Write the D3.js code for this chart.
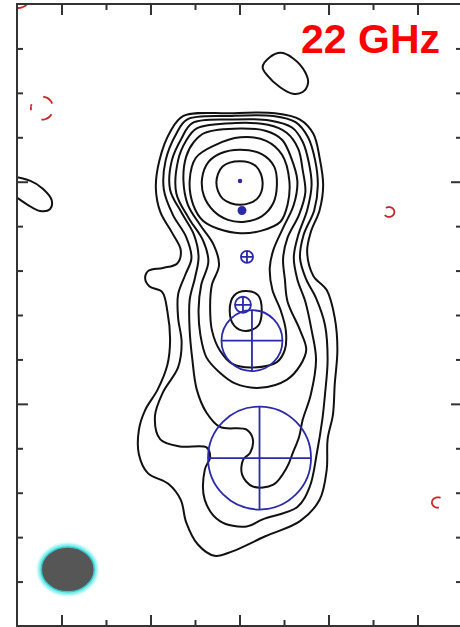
<!DOCTYPE html>
<html>
<head>
<meta charset="utf-8">
<script src="https://cdn.jsdelivr.net/npm/d3@7"></script>
<style>
  html, body { margin: 0; padding: 0; background: #fff; }
  svg { display: block; }
</style>
</head>
<body>
<svg id="map" width="460" height="627"></svg>
<script>
// Relative RA / Dec offsets in mas (RA grows to the left)
const xDomain = [2.5, -2.5];
const yDomain = [2.0, -5.0];

const xMajorTicks = [2, 1, 0, -1, -2];
const xMinorTicks = [1.5, 0.5, -0.5, -1.5];
const yMajorTicks = [0, -2.5];
const yMinorTicks = [1.5, 1.0, 0.5, -0.5, -1.0, -1.5, -2.0, -3.0, -3.5, -4.0, -4.5];

const title = "22 GHz";

// Restoring beam: centre, FWHM axes (mas)
const beamCenter = [1.93, -4.363];
const beamAxes = [0.595, 0.505];

// Positive contour levels, lowest first; each level may have several rings
const level1 = [
  [[0.63,0.74],[0.11,0.77],[-0.40,0.77],[-0.68,0.70],[-0.83,0.54],[-0.90,0.27],[-0.94,-0.04],[-0.90,-0.32],[-0.80,-0.57],[-0.76,-0.79],[-0.83,-1.06],[-0.98,-1.22],[-1.07,-1.53],[-1.10,-1.89],[-1.07,-2.28],[-1.05,-2.62],[-0.99,-2.90],[-0.98,-3.24],[-0.90,-3.58],[-0.68,-3.82],[-0.29,-3.99],[0.08,-4.16],[0.28,-4.21],[0.47,-4.08],[0.60,-3.83],[0.66,-3.58],[0.80,-3.40],[1.03,-3.28],[1.13,-3.07],[1.13,-2.79],[1.06,-2.57],[0.92,-2.34],[0.81,-2.06],[0.78,-1.78],[0.81,-1.46],[0.87,-1.24],[1.01,-1.18],[1.06,-1.09],[1.02,-1.00],[0.86,-0.97],[0.70,-0.92],[0.66,-0.77],[0.76,-0.57],[0.89,-0.34],[0.94,-0.07],[0.90,0.24],[0.78,0.56]],
  [[-0.26,1.29],[-0.34,1.40],[-0.46,1.45],[-0.60,1.39],[-0.74,1.23],[-0.77,1.11],[-0.71,1.01],[-0.60,0.99],[-0.46,1.06],[-0.31,1.20]],
  [[2.58,0.04],[2.35,0.01],[2.21,-0.08],[2.11,-0.21],[2.13,-0.31],[2.24,-0.33],[2.38,-0.26],[2.50,-0.18],[2.60,-0.12]]
];
const level2 = [
  [[0.59,0.70],[0.11,0.74],[-0.38,0.74],[-0.63,0.67],[-0.77,0.50],[-0.85,0.24],[-0.88,-0.04],[-0.84,-0.32],[-0.72,-0.60],[-0.68,-0.86],[-0.75,-1.10],[-0.86,-1.31],[-0.96,-1.61],[-0.99,-2.00],[-0.96,-2.40],[-0.93,-2.68],[-0.87,-3.05],[-0.79,-3.43],[-0.65,-3.66],[-0.26,-3.80],[-0.08,-3.88],[0.22,-3.82],[0.39,-3.58],[0.39,-3.24],[0.33,-3.10],[0.37,-2.99],[0.67,-2.98],[0.89,-2.90],[0.95,-2.64],[0.86,-2.37],[0.69,-2.09],[0.65,-1.81],[0.69,-1.53],[0.69,-1.27],[0.61,-1.05],[0.54,-0.86],[0.60,-0.62],[0.75,-0.37],[0.85,-0.09],[0.83,0.24],[0.71,0.54]]
];
const level3 = [
  [[0.53,0.66],[0.08,0.70],[-0.34,0.69],[-0.59,0.61],[-0.71,0.45],[-0.78,0.21],[-0.81,-0.04],[-0.76,-0.32],[-0.66,-0.60],[-0.61,-0.85],[-0.65,-1.10],[-0.74,-1.35],[-0.81,-1.67],[-0.86,-2.00],[-0.80,-2.40],[-0.71,-2.68],[-0.67,-2.87],[-0.60,-3.05],[-0.53,-3.22],[-0.38,-3.41],[-0.15,-3.43],[-0.03,-3.30],[-0.04,-3.13],[-0.12,-3.05],[-0.15,-2.90],[-0.08,-2.79],[0.22,-2.76],[0.37,-2.60],[0.48,-2.34],[0.53,-2.00],[0.56,-1.67],[0.56,-1.33],[0.50,-1.08],[0.46,-0.85],[0.51,-0.60],[0.65,-0.35],[0.78,-0.09],[0.76,0.24],[0.65,0.49]]
];
const level4 = [
  [[0.48,0.60],[0.04,0.66],[-0.32,0.64],[-0.53,0.55],[-0.66,0.37],[-0.71,0.13],[-0.74,-0.12],[-0.67,-0.37],[-0.54,-0.63],[-0.49,-0.86],[-0.51,-1.10],[-0.54,-1.35],[-0.68,-1.67],[-0.75,-1.89],[-0.68,-2.07],[-0.53,-2.23],[-0.23,-2.32],[0.05,-2.27],[0.22,-2.15],[0.37,-1.98],[0.44,-1.72],[0.46,-1.44],[0.43,-1.16],[0.35,-0.90],[0.41,-0.66],[0.57,-0.41],[0.71,-0.13],[0.69,0.24],[0.60,0.46]]
];
const level5 = [
  [[0.39,0.55],[-0.01,0.60],[-0.30,0.57],[-0.48,0.47],[-0.58,0.27],[-0.65,0.01],[-0.61,-0.26],[-0.49,-0.52],[-0.38,-0.77],[-0.34,-0.97],[-0.37,-1.22],[-0.46,-1.44],[-0.52,-1.67],[-0.51,-1.89],[-0.42,-2.03],[-0.15,-2.09],[0.08,-2.05],[0.22,-1.90],[0.31,-1.67],[0.33,-1.39],[0.31,-1.16],[0.23,-0.94],[0.29,-0.71],[0.44,-0.49],[0.58,-0.26],[0.63,0.01],[0.60,0.28],[0.51,0.45]]
];
const level6 = [
  [[0.28,0.41],[-0.01,0.50],[-0.30,0.46],[-0.48,0.30],[-0.56,0.01],[-0.54,-0.26],[-0.46,-0.45],[-0.25,-0.55],[-0.01,-0.58],[0.24,-0.53],[0.41,-0.44],[0.52,-0.26],[0.56,0.01],[0.49,0.27]],
  [[-0.07,-1.23],[-0.21,-1.28],[-0.25,-1.45],[-0.21,-1.62],[-0.07,-1.68],[0.06,-1.62],[0.11,-1.45],[0.06,-1.28]]
];
const level7 = [
  [[-0.01,0.36],[-0.25,0.31],[-0.39,0.17],[-0.42,-0.04],[-0.38,-0.24],[-0.25,-0.39],[-0.06,-0.45],[0.13,-0.43],[0.29,-0.33],[0.40,-0.16],[0.42,0.04],[0.35,0.22],[0.21,0.32]]
];
const level8 = [
  [[-0.01,0.23],[-0.19,0.17],[-0.26,-0.01],[-0.20,-0.19],[-0.01,-0.26],[0.19,-0.19],[0.26,-0.01],[0.19,0.17]]
];
const positiveLevels = [level1, level2, level3, level4, level5, level6, level7, level8];

// Negative (lowest level) contours: centre x, centre y, radius x, radius y (mas)
const negX  = [2.219, -1.680, -2.230, 2.489];
const negY  = [0.828, -0.341, -3.610, 2.075];
const negRx = [0.125, 0.060, 0.068, 0.135];
const negRy = [0.130, 0.055, 0.058, 0.120];

// Model-fit Gaussian components: position and FWHM diameter (mas)
const compX = [-0.006, -0.028, -0.084, -0.039, -0.140, -0.225];
const compY = [0.008, -0.324, -0.846, -1.385, -1.789, -3.110];
const compD = [0.030, 0.080, 0.135, 0.180, 0.685, 1.157];

const svg = d3.select("#map");
const plotLeft = 17, plotRight = 462, plotTop = 4, plotBottom = 626;
const x = d3.scaleLinear().domain(xDomain).range([plotLeft, plotRight]);
const y = d3.scaleLinear().domain(yDomain).range([plotTop, plotBottom]);
const pxPerMas = Math.abs(x(1) - x(0));

const defs = svg.append("defs");
defs.append("clipPath").attr("id", "plotArea")
  .append("rect").attr("x", plotLeft).attr("y", plotTop)
  .attr("width", plotRight - plotLeft).attr("height", plotBottom - plotTop);
const glow = defs.append("filter").attr("id", "glow")
  .attr("x", "-30%").attr("y", "-30%").attr("width", "160%").attr("height", "160%");
glow.append("feGaussianBlur").attr("stdDeviation", 1.6);

const plot = svg.append("g").attr("clip-path", "url(#plotArea)");

const ring = d3.line()
  .x(d => x(d[0])).y(d => y(d[1]))
  .curve(d3.curveCatmullRomClosed.alpha(0.5));

// positive contours
plot.append("g").selectAll("path")
  .data(positiveLevels.flat())
  .join("path")
  .attr("d", ring)
  .attr("fill", "none")
  .attr("stroke", "#111")
  .attr("stroke-width", 2)
  .attr("stroke-linejoin", "round");

// negative contours: dashed, each traced counter-clockwise from its east point
const angles = d3.range(0, 2 * Math.PI, Math.PI / 18);
const negDash = ["2,15,12,11,12,15,4", "24,8", "21,14", "13,8"];
const negDashOffset = [0, 28, 10.5, 0];
plot.append("g").selectAll("path")
  .data(negX.map((v, i) => angles.map(a => [v + negRx[i] * Math.cos(a), negY[i] + negRy[i] * Math.sin(a)])))
  .join("path")
  .attr("d", d => ring(d) )
  .attr("fill", "none")
  .attr("stroke", "#c8262a")
  .attr("stroke-width", 1.8)
  .attr("stroke-dasharray", (d, i) => negDash[i])
  .attr("stroke-dashoffset", (d, i) => negDashOffset[i]);

// model components: circle of FWHM with a cross
const comps = plot.append("g").selectAll("g")
  .data(compX.map((v, i) => ({ cx: v, cy: compY[i], r: compD[i] / 2 })))
  .join("g")
  .attr("transform", d => `translate(${x(d.cx)},${y(d.cy)})`);
comps.append("circle")
  .attr("r", d => d.r * pxPerMas)
  .attr("fill", d => d.r < 0.05 ? "#2a2aa8" : "none")
  .attr("stroke", "#2a2aa8")
  .attr("stroke-width", 1.8);
comps.filter(d => d.r >= 0.05).append("path")
  .attr("d", d => {
    const r = d.r * pxPerMas;
    return `M${-r},0H${r}M0,${-r}V${r}`;
  })
  .attr("stroke", "#2a2aa8")
  .attr("stroke-width", 1.8);

// beam
const bx = x(beamCenter[0]), by = y(beamCenter[1]);
const brx = beamAxes[0] / 2 * pxPerMas, bry = beamAxes[1] / 2 * pxPerMas;
plot.append("ellipse")
  .attr("cx", bx).attr("cy", by).attr("rx", brx + 1).attr("ry", bry + 1)
  .attr("fill", "none").attr("stroke", "#5fe8e8").attr("stroke-width", 4)
  .attr("filter", "url(#glow)");
plot.append("ellipse")
  .attr("cx", bx).attr("cy", by).attr("rx", brx).attr("ry", bry)
  .attr("fill", "#565656").attr("stroke", "#35c9cc").attr("stroke-width", 1.5);

// frame and inward ticks
const frame = svg.append("g").attr("class", "frame");
function drawAxis(gen, tx, ty, values, size) {
  const g = frame.append("g").attr("transform", `translate(${tx},${ty})`)
    .call(gen.tickValues(values).tickSize(size).tickSizeOuter(0).tickFormat(""));
  g.selectAll("line").attr("stroke", "#333").attr("stroke-width", 2);
  g.select(".domain").remove();
}
[[xMajorTicks, 11], [xMinorTicks, 6]].forEach(([v, s]) => {
  drawAxis(d3.axisBottom(x), 0, plotTop, v, s);
  drawAxis(d3.axisTop(x), 0, plotBottom, v, s);
});
[[yMajorTicks, 11], [yMinorTicks, 6]].forEach(([v, s]) => {
  drawAxis(d3.axisRight(y), plotLeft, 0, v, s);
  drawAxis(d3.axisLeft(y), plotRight, 0, v, s);
});
frame.append("rect")
  .attr("x", plotLeft).attr("y", plotTop)
  .attr("width", plotRight - plotLeft).attr("height", plotBottom - plotTop)
  .attr("fill", "none").attr("stroke", "#333").attr("stroke-width", 2);

svg.append("text")
  .attr("x", 440).attr("y", 53)
  .attr("text-anchor", "end")
  .attr("font-family", "'Liberation Sans', Arial, sans-serif")
  .attr("font-weight", "bold")
  .attr("font-size", 41)
  .attr("fill", "#ff0000")
  .text(title);
</script>
</body>
</html>
